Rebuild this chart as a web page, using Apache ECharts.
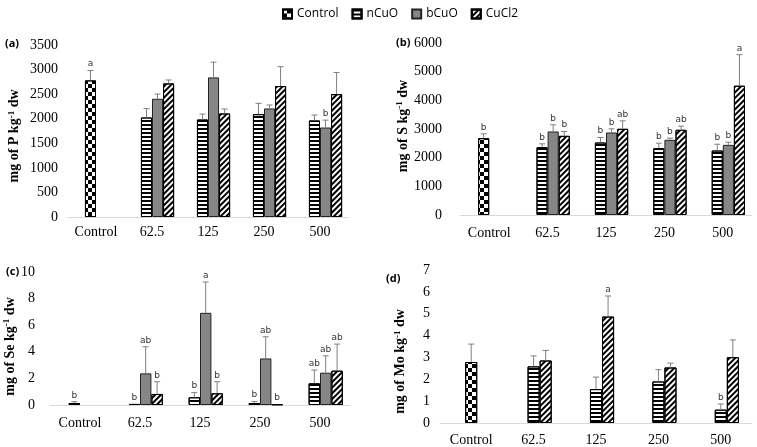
<!DOCTYPE html>
<html><head><meta charset="utf-8">
<script src="https://cdn.jsdelivr.net/npm/echarts@6/dist/echarts.min.js"></script>
<style>html,body{margin:0;padding:0;background:#fff}#c{width:757px;height:447px}</style>
</head><body><div id="c"></div>
<script>
const categories = ['Control', '62.5', '125', '250', '500'];
const seriesNames = ['Control', 'nCuO', 'bCuO', 'CuCl2'];

// (a) P
const pControl = 2780, pControlSd = 200, pControlLetter = 'a';
const pNCuO = [2025, 1984, 2093, 1964], pNCuOSd = [180, 110, 220, 110], pNCuOLet = ['', '', '', ''];
const pBCuO = [2406, 2841, 2209, 1821], pBCuOSd = [95, 310, 70, 150], pBCuOLet = ['', '', '', 'b'];
const pCuCl2 = [2718, 2107, 2664, 2500], pCuCl2Sd = [70, 90, 395, 440], pCuCl2Let = ['', '', '', ''];

// (b) S
const sControl = 2680, sControlSd = 150, sControlLetter = 'b';
const sNCuO = [2365, 2528, 2330, 2249], sNCuOSd = [117, 175, 175, 220], sNCuOLet = ['b', 'b', 'b', 'b'];
const sBCuO = [2913, 2878, 2621, 2447], sBCuOSd = [233, 128, 59, 93], sBCuOLet = ['b', 'b', 'b', 'b'];
const sCuCl2 = [2761, 3006, 2971, 4509], sCuCl2Sd = [152, 279, 128, 1083], sCuCl2Let = ['b', 'ab', 'ab', 'a'];

// (c) Se
const seControl = 0.15, seControlSd = 0.1, seControlLetter = 'b';
const seNCuO = [0.08, 0.58, 0.15, 1.63], seNCuOSd = [0, 0.35, 0.12, 1.0], seNCuOLet = ['b', 'b', 'b', 'ab'];
const seBCuO = [2.38, 6.93, 3.5, 2.43], seBCuOSd = [2.0, 2.32, 1.63, 1.27], seBCuOLet = ['ab', 'a', 'ab', 'ab'];
const seCuCl2 = [0.83, 0.88, 0.05, 2.58], seCuCl2Sd = [0.92, 0.87, 0, 2.0], seCuCl2Let = ['b', 'b', 'b', 'ab'];

// (d) Mo
const moControl = 2.79, moControlSd = 0.82, moControlLetter = '';
const moNCuO = [2.59, 1.55, 1.9, 0.61], moNCuOSd = [0.48, 0.55, 0.54, 0.26], moNCuOLet = ['', '', '', 'b'];
const moCuCl2 = [2.86, 4.87, 2.54, 3.01], moCuCl2Sd = [0.46, 0.94, 0.2, 0.79], moCuCl2Let = ['', 'a', '', ''];

const styles = {
  Control: {color: '#fff', borderColor: '#000', borderWidth: 1,
    decal: {symbol: 'rect', symbolSize: 1, dashArrayX: [[4, 4], [0, 4, 4, 0]], dashArrayY: [4, 0], color: '#000'}},
  nCuO: {color: '#fff', borderColor: '#000', borderWidth: 1,
    decal: {symbol: 'rect', symbolSize: 1, dashArrayX: [1, 0], dashArrayY: [2, 2], color: '#000'}},
  bCuO: {color: '#868686', borderColor: '#222', borderWidth: 1},
  CuCl2: {color: '#fff', borderColor: '#000', borderWidth: 1,
    decal: {symbol: 'rect', symbolSize: 1, dashArrayX: [1, 0], dashArrayY: [1.5, 2], rotation: -Math.PI / 4, color: '#000'}}
};

const serif = 'Liberation Serif';
const panels = [
  {grid: {left: 68, top: 45, width: 280, height: 172}, max: 3500, interval: 500, gap: '21%', nameGap: 46, labelMargin: 10, xMargin: 8,
   name: 'mg of P kg', namePad: [0, 10, 0, 0],
   ctrl: [pControl, pControlSd, pControlLetter],
   groups: [['nCuO', pNCuO, pNCuOSd, pNCuOLet], ['bCuO', pBCuO, pBCuOSd, pBCuOLet], ['CuCl2', pCuCl2, pCuCl2Sd, pCuCl2Let]]},
  {grid: {left: 460, top: 43, width: 292, height: 172}, max: 6000, interval: 1000, gap: '24%', nameGap: 48, labelMargin: 18, xMargin: 11,
   name: 'mg of S kg', namePad: [0, 0, 0, 6],
   ctrl: [sControl, sControlSd, sControlLetter],
   groups: [['nCuO', sNCuO, sNCuOSd, sNCuOLet], ['bCuO', sBCuO, sBCuOSd, sBCuOLet], ['CuCl2', sCuCl2, sCuCl2Sd, sCuCl2Let]]},
  {grid: {left: 50, top: 272, width: 300, height: 133}, max: 10, interval: 2, gap: '24%', nameGap: 25, labelMargin: 15, xMargin: 11,
   name: 'mg of Se kg', namePad: [0, 16, 0, 0],
   ctrl: [seControl, seControlSd, seControlLetter],
   groups: [['nCuO', seNCuO, seNCuOSd, seNCuOLet], ['bCuO', seBCuO, seBCuOSd, seBCuOLet], ['CuCl2', seCuCl2, seCuCl2Sd, seCuCl2Let]]},
  {grid: {left: 440, top: 270, width: 312, height: 153}, max: 7, interval: 1, gap: '42%', nameGap: 32, labelMargin: 10, xMargin: 10,
   name: 'mg of Mo kg', namePad: [0, 30, 0, 0],
   ctrl: [moControl, moControlSd, moControlLetter],
   groups: [['nCuO', moNCuO, moNCuOSd, moNCuOLet], ['CuCl2', moCuCl2, moCuCl2Sd, moCuCl2Let]]}
];

const grids = [], xAxes = [], yAxes = [], series = [];
panels.forEach(function (p, gi) {
  grids.push(p.grid);
  xAxes.push({type: 'category', gridIndex: gi, data: categories,
    axisLine: {lineStyle: {color: '#d9d9d9', width: 1}}, axisTick: {show: false},
    axisLabel: {fontFamily: serif, fontSize: 14, color: '#000', margin: p.xMargin}});
  yAxes.push({type: 'value', gridIndex: gi, min: 0, max: p.max, interval: p.interval,
    axisLine: {show: false}, axisTick: {show: false}, splitLine: {show: false},
    axisLabel: {fontFamily: serif, fontSize: 14, color: '#000', margin: p.labelMargin,
      formatter: function (v) { return String(v); }},
    name: '{n|' + p.name + '}{s|-1}{n| dw}', nameLocation: 'middle', nameGap: p.nameGap, nameRotate: 90,
    nameTextStyle: {padding: p.namePad, rich: {
      n: {fontFamily: serif, fontWeight: 'bold', fontSize: 14, color: '#000'},
      s: {fontFamily: serif, fontWeight: 'bold', fontSize: 9, color: '#000', verticalAlign: 'top', padding: [0, 0, 6, 0]}}}});

  const nSlots = p.groups.length + 1;
  const gapRatio = parseFloat(p.gap) / 100;
  const common = {type: 'bar', xAxisIndex: gi, yAxisIndex: gi, barGap: 0, barCategoryGap: p.gap};
  // empty first slot
  series.push(Object.assign({}, common, {data: [null, null, null, null, null], silent: true}));
  series.push(Object.assign({}, common, {name: 'Control', stack: 'ctl' + gi,
    data: [p.ctrl[0], null, null, null, null], itemStyle: styles.Control}));
  const errItems = [{ci: 0, m: p.ctrl[0], sd: p.ctrl[1], let: p.ctrl[2], slot: 1}];
  p.groups.forEach(function (g, k) {
    const d = [null].concat(g[1]);
    const s = Object.assign({}, common, {name: g[0], data: d, itemStyle: styles[g[0]]});
    if (k === 0) s.stack = 'ctl' + gi;
    series.push(s);
    g[1].forEach(function (v, i) {
      errItems.push({ci: i + 1, m: v, sd: g[2][i], let: g[3][i], slot: k + 1});
    });
  });
  series.push({type: 'custom', xAxisIndex: gi, yAxisIndex: gi, z: 5, silent: true,
    data: errItems.map(function (e) { return [e.ci, e.m, e.sd]; }),
    encode: {x: 0, y: 1},
    renderItem: function (params, api) {
      const e = errItems[params.dataIndex];
      const band = api.size([1, 0], [e.ci, e.m])[0];
      const slotW = band * (1 - gapRatio) / nSlots;
      const base = api.coord([e.ci, e.m]);
      const top = api.coord([e.ci, e.m + e.sd]);
      const x = base[0] + (e.slot - (nSlots - 1) / 2) * slotW;
      const ch = [];
      const ls = {stroke: '#7f7f7f', lineWidth: 1};
      if (e.sd > 0) {
        ch.push({type: 'line', shape: {x1: x, y1: base[1], x2: x, y2: top[1]}, style: ls});
        ch.push({type: 'line', shape: {x1: x - 3, y1: top[1], x2: x + 3, y2: top[1]}, style: ls});
      }
      if (e.let) {
        ch.push({type: 'text', x: x, y: top[1] - 2,
          style: {text: e.let, fill: '#333', font: '9px "DejaVu Sans"', textAlign: 'center', textVerticalAlign: 'bottom'}});
      }
      return {type: 'group', children: ch};
    }});
});

const chart = echarts.init(document.getElementById('c'), null, {renderer: 'canvas'});
chart.setOption({
  animation: false,
  backgroundColor: '#fff',
  legend: {data: seriesNames, top: 3, left: 277, itemWidth: 9, itemHeight: 9, itemGap: 13, icon: 'rect', selectedMode: false,
    textStyle: {fontFamily: 'Open Sans', fontSize: 12, color: '#000'}},
  grid: grids, xAxis: xAxes, yAxis: yAxes, series: series,
  graphic: [
    {type: 'text', left: 5, top: 38, style: {text: '(a)', font: 'bold 11px "Open Sans"', fill: '#000'}},
    {type: 'text', left: 396, top: 37, style: {text: '(b)', font: 'bold 11px "Open Sans"', fill: '#000'}},
    {type: 'text', left: 6, top: 266, style: {text: '(c)', font: 'bold 11px "Open Sans"', fill: '#000'}},
    {type: 'text', left: 386, top: 273, style: {text: '(d)', font: 'bold 11px "Open Sans"', fill: '#000'}}
  ]
});
</script></body></html>
